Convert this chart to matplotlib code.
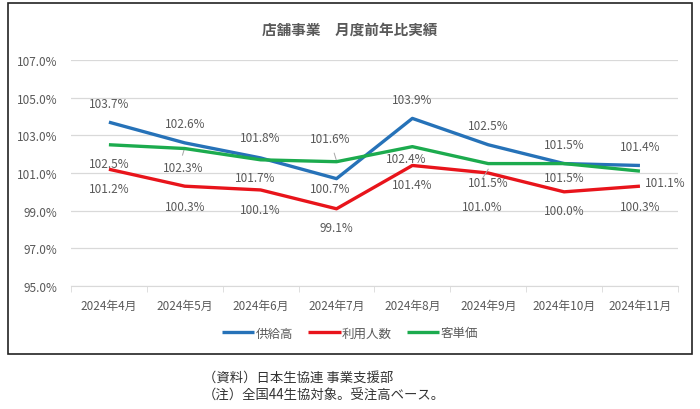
import numpy as np
import matplotlib
matplotlib.use('Agg')
import matplotlib.pyplot as plt
from matplotlib.patches import Rectangle

plt.rcParams['font.family'] = ['Noto Sans CJK JP', 'DejaVu Sans']

months = ['2024年4月', '2024年5月', '2024年6月', '2024年7月',
          '2024年8月', '2024年9月', '2024年10月', '2024年11月']
supply = [103.7, 102.6, 101.8, 100.7, 103.9, 102.5, 101.5, 101.4]      # 供給高
users = [101.2, 100.3, 100.1, 99.1, 101.4, 101.0, 100.0, 100.3]        # 利用人数
unit_price = [102.5, 102.3, 101.7, 101.6, 102.4, 101.5, 101.5, 101.1]  # 客単価
series_names = ['供給高', '利用人数', '客単価']

colors = ['#2672B8', '#E8141B', '#1CAB4E']
txt = '#595959'

# label offsets in pixels (dx, dy) for each series / point
off_supply = [(0, 19), (0, 19), (0, 20), (-6, -10), (0, 19), (0, 19), (0, 19), (0, 19)]
off_users = [(0, -19), (0, -20), (0, -20), (0, -19), (0, -19), (-6, -33), (0, -19), (0, -20)]
off_price = [(0, -19), (-2, -19), (-5, -18), (-6, 23), (-6, -12), (0, -19), (0, -14), (25, -11)]

fig = plt.figure(figsize=(7, 4.1), dpi=100)
ax = fig.add_axes([0.1014, 0.30, 0.867, 0.5512])
x = np.arange(len(months))

for vals, c, name, offs in [(supply, colors[0], series_names[0], off_supply),
                            (users, colors[1], series_names[1], off_users),
                            (unit_price, colors[2], series_names[2], off_price)]:
    ax.plot(x, vals, color=c, lw=2.4, label=name, zorder=3, solid_capstyle='butt')
    for xi, v, (dx, dy) in zip(x, vals, offs):
        ax.annotate(f'{v:.1f}%', (xi, v), xytext=(dx, dy), textcoords='offset pixels',
                    ha='center', va='center', fontsize=8.5, color=txt, zorder=4)

# leader lines
for xi, v, y2 in [(1, unit_price[1], 101.95), (3, unit_price[3], 102.05)]:
    ax.plot([xi - 0.03, xi], [y2, v + 0.05], color='#a6a6a6', lw=0.7, zorder=2)
ax.plot([4.93, 5.0], [100.75, 101.2], color='#a6a6a6', lw=0.7, zorder=5)

ax.set_xlim(-0.5, len(months) - 0.5)
ax.set_ylim(95, 107)
ax.set_yticks(np.arange(95, 107.1, 2))
ax.set_yticklabels([f'{t:.1f}%' for t in np.arange(95, 107.1, 2)])
ax.set_xticks(x)
ax.set_xticklabels(months)
ax.set_xticks(np.arange(-0.5, len(months), 1), minor=True)
ax.tick_params(axis='x', which='major', length=0, pad=9, labelsize=8.5, labelcolor=txt)
ax.tick_params(axis='x', which='minor', length=4, color='#d9d9d9')
ax.tick_params(axis='y', length=0, pad=10, labelsize=8.5, labelcolor=txt)
ax.grid(axis='y', color='#d9d9d9', lw=0.9)
ax.set_axisbelow(True)
for s in ['top', 'right', 'left']:
    ax.spines[s].set_visible(False)
ax.spines['bottom'].set_color('#d9d9d9')

leg = fig.legend(loc='center', bbox_to_anchor=(0.5, 1 - 334 / 410), ncol=3, frameon=False,
                 fontsize=9, handlelength=2.6, handletextpad=0.1, columnspacing=1.2)
for t in leg.get_texts():
    t.set_color(txt)

fig.text(0.5, 1 - 30 / 410, '店舗事業　月度前年比実績', ha='center', va='center',
         fontsize=10.5, fontweight='bold', color=txt)

fig.patches.append(Rectangle((8 / 700, 1 - 355 / 410), 684 / 700, 351 / 410,
                             transform=fig.transFigure, fill=False, ec='#222222', lw=1.2))

fig.text(203 / 700, 1 - 378 / 410, '（資料）日本生協連 事業支援部', ha='left', va='center',
         fontsize=9.6, color='#333333')
fig.text(203 / 700, 1 - 396 / 410, '（注）全国44生協対象。受注高ベース。', ha='left', va='center',
         fontsize=9.6, color='#333333')

fig.savefig('out.png', dpi=100)
